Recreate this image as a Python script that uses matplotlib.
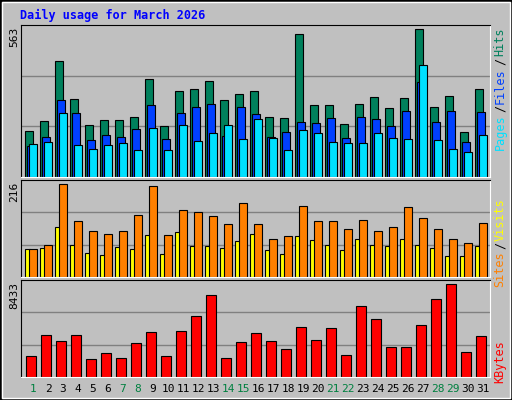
import matplotlib
matplotlib.use("Agg")
import matplotlib.pyplot as plt
from matplotlib.patches import Rectangle

days = list(range(1, 32))
weekend = [1, 7, 8, 14, 15, 21, 22, 28, 29]

hits = [175, 214, 440, 298, 198, 218, 218, 229, 371, 194, 329, 333, 367, 294, 317, 329,
        229, 225, 544, 275, 275, 202, 279, 306, 264, 302, 563, 267, 310, 171, 333]
files = [118, 152, 294, 244, 141, 160, 152, 183, 275, 145, 244, 267, 279, 156, 267, 241,
         152, 171, 210, 206, 225, 148, 229, 221, 194, 252, 361, 210, 252, 133, 248]
pages = [125, 133, 244, 122, 106, 122, 129, 102, 187, 102, 198, 137, 168, 198, 145, 221,
         148, 102, 179, 168, 133, 129, 129, 168, 148, 145, 425, 141, 106, 95, 160]
visits = [65, 75, 216, 129, 108, 100, 108, 145, 211, 98, 155, 152, 141, 122, 171, 122,
          89, 96, 164, 129, 131, 112, 133, 108, 117, 162, 138, 112, 89, 79, 126]
sites = [65, 68, 115, 75, 56, 51, 70, 65, 98, 53, 105, 72, 72, 68, 84, 100,
         63, 53, 96, 86, 75, 63, 89, 75, 72, 89, 75, 68, 49, 49, 72]
kbytes = [1946, 3800, 3244, 3800, 1668, 2132, 1761, 3058, 4077, 1946, 4170, 5560, 7414, 1761,
          3151, 3985, 3244, 2502, 4541, 3336, 4448, 2039, 6394, 5282, 2688, 2688, 4726, 7043,
          8433, 2224, 3707]

BG = "#C0C0C0"
W, H = 512, 400
MONO = "DejaVu Sans Mono"

fig = plt.figure(figsize=(5.12, 4.0), dpi=100)
fig.patch.set_facecolor(BG)
# bevelled border
fig.add_artist(Rectangle((0, 0), 1, 1, transform=fig.transFigure, fill=False,
                         edgecolor="black", linewidth=2))
fig.add_artist(Rectangle((2 / W, 2 / H), 1 - 4 / W, 1 - 4 / H, transform=fig.transFigure,
                         fill=False, edgecolor="white", linewidth=1))


def panel(top, bottom, vmax, vtop_px):
    ax = fig.add_axes([21 / W, 1 - bottom / H, 469 / W, (bottom - top) / H])
    ax.set_facecolor(BG)
    ax.set_xlim(0, 469 / 15)
    ymax = vmax * (bottom - top) / (bottom - vtop_px)
    ax.set_ylim(0, ymax)
    for f in (1 / 3, 2 / 3):
        ax.axhline(ymax * f, color="#808080", linewidth=1, zorder=0)
    ax.set_xticks([])
    ax.set_yticks([])
    for s in ax.spines.values():
        s.set_color("black")
    ax.spines["bottom"].set_color("white")
    ax.spines["right"].set_color("white")
    fig.text(14 / W, 1 - (top + 2) / H, str(vmax), rotation=90, ha="center", va="top",
             fontsize=8, family=MONO)
    return ax


def bars(ax, vals, off, width, color):
    x = [d - 1 + off / 15 for d in days]
    ax.bar(x, vals, width=width / 15, align="edge", color=color, edgecolor="black",
           linewidth=0.8, zorder=2)


def side_label(parts, y0):
    # parts listed from top to bottom
    y = y0
    for txt, col in parts:
        fig.text(500 / W, 1 - y / H, txt, rotation=90, ha="center", va="top",
                 color=col, fontsize=8.5, family=MONO)
        y += len(txt) * 6.8 + 3


fig.text(20 / W, 1 - 15 / H, "Daily usage for March 2026", color="#0000FF", fontsize=8.5,
         family=MONO, fontweight="bold", va="center")

ax1 = panel(25, 177, max(hits), 29)
bars(ax1, hits, 4, 8, "#00805C")
bars(ax1, files, 6, 8, "#0040FF")
bars(ax1, pages, 8, 8, "#00E0FF")
side_label([("Hits", "#00805C"), ("/", "#000000"), ("Files", "#0040FF"),
            ("/", "#000000"), ("Pages", "#00E0FF")], 28)

ax2 = panel(180, 277, max(visits), 184)
bars(ax2, sites, 4, 5, "#FFFF00")
bars(ax2, visits, 8, 8, "#FF8000")
side_label([("Visits", "#FFFF00"), ("/", "#000000"), ("Sites", "#FF8000")], 198)

ax3 = panel(280, 377, max(kbytes), 284)
bars(ax3, kbytes, 5, 10, "#FF0000")
side_label([("KBytes", "#FF0000")], 340)

for d in days:
    col = "#008040" if d in weekend else "black"
    fig.text((21 + (d - 1) * 15 + 12) / W, 1 - 389 / H, str(d), ha="center", va="center",
             color=col, fontsize=8, family=MONO)

fig.savefig("out.png", dpi=100, facecolor=BG)
